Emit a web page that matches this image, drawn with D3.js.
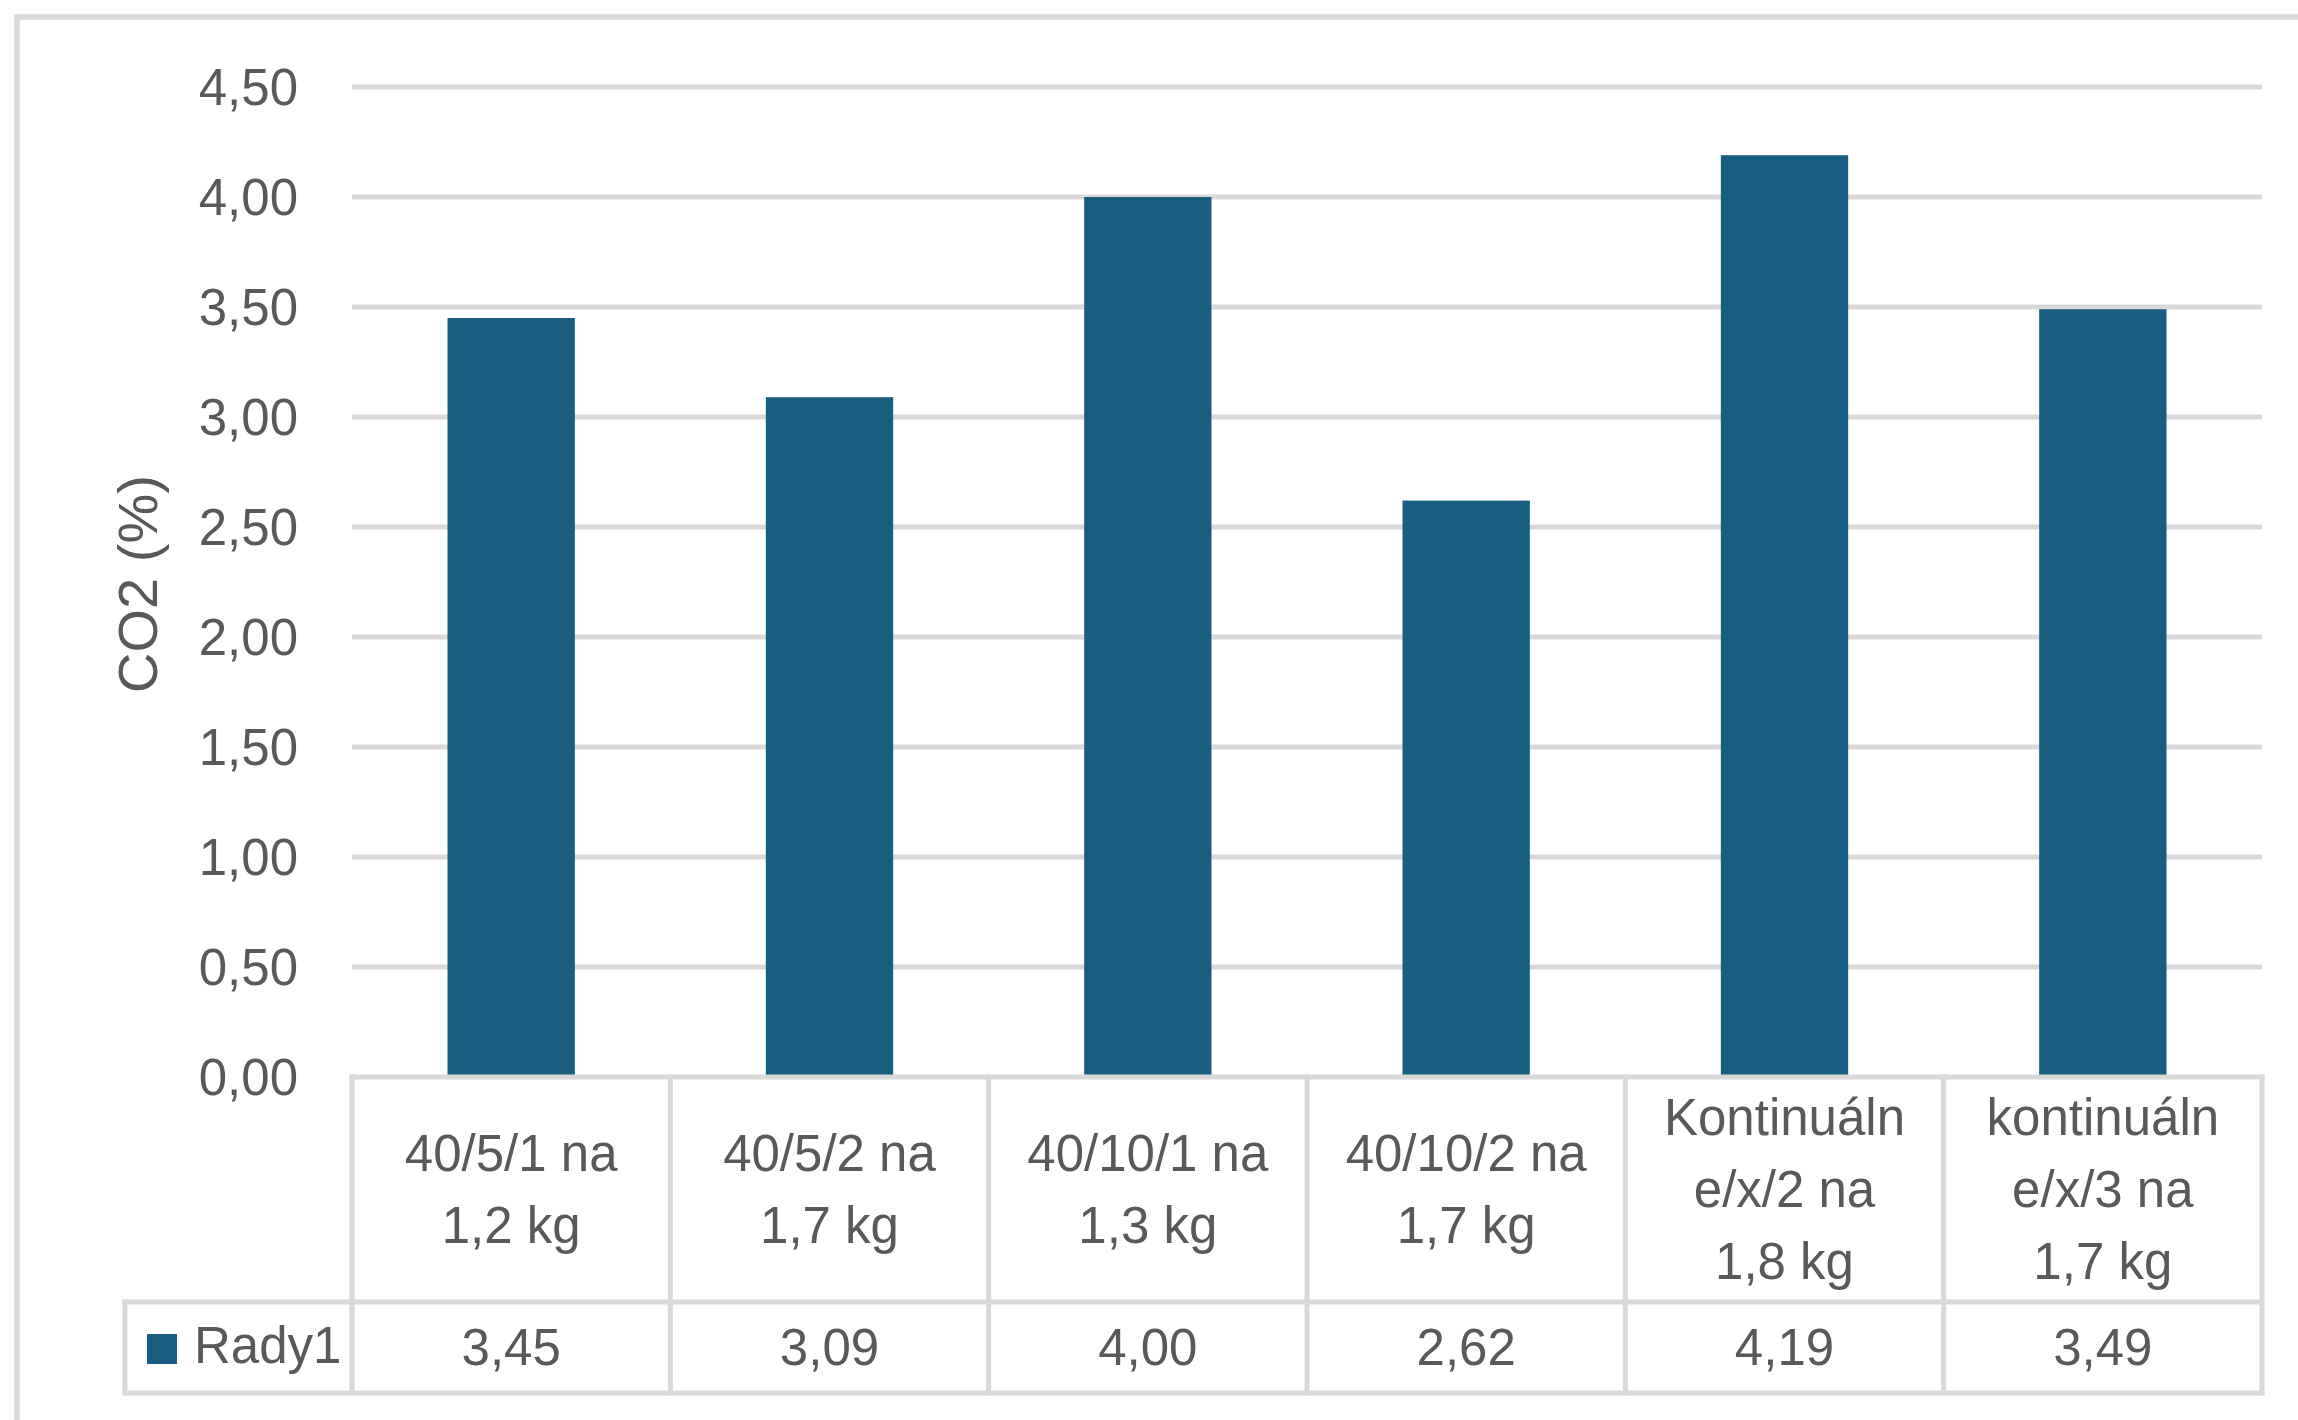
<!DOCTYPE html>
<html>
<head>
<meta charset="utf-8">
<script src="https://cdn.jsdelivr.net/npm/d3@7"></script>
<style>
  html, body { margin: 0; padding: 0; background: #ffffff; }
  svg { display: block; }
  text { font-family: "Liberation Sans", Arial, sans-serif; fill: #595959; }
</style>
</head>
<body>
<script>
// ---- data ----
const categories = [
  ["40/5/1 na", "1,2 kg"],
  ["40/5/2 na", "1,7 kg"],
  ["40/10/1 na", "1,3 kg"],
  ["40/10/2 na", "1,7 kg"],
  ["Kontinuáln", "e/x/2 na", "1,8 kg"],
  ["kontinuáln", "e/x/3 na", "1,7 kg"]
];
const seriesName = "Rady1";
const values = [3.45, 3.09, 4.00, 2.62, 4.19, 3.49];
const yTicks = [0, 0.5, 1, 1.5, 2, 2.5, 3, 3.5, 4, 4.5];
const yTitle = "CO2 (%)";

// ---- layout ----
const W = 2298, H = 1420;
const barColor = "#175e80";
const gridColor = "#d9d9d9";
const lw = 5;

const locale = d3.formatLocale({decimal: ",", thousands: " ", grouping: [3], currency: ["", ""]});
const fmt = locale.format(".2f");

const svg = d3.select("body").append("svg").attr("width", W).attr("height", H);

// outer border (extends beyond right/bottom edges)
svg.append("rect").attr("x", 17).attr("y", 17).attr("width", W + 100).attr("height", H + 100)
  .attr("fill", "none").attr("stroke", gridColor).attr("stroke-width", 5.5);

const plotL = 352, plotR = 2262, plotT = 87, plotB = 1077;
const idx = categories.map((d, i) => i);

const x = d3.scaleBand().domain(idx).range([plotL, plotR]).paddingInner(0.6).paddingOuter(0.3);
const xCol = d3.scaleBand().domain(idx).range([plotL, plotR]).padding(0);
const y = d3.scaleLinear().domain([0, 4.5]).range([plotB, plotT]);

// gridlines
svg.append("g").selectAll("line").data(yTicks.filter(t => t > 0)).join("line")
  .attr("x1", plotL).attr("x2", plotR)
  .attr("y1", d => y(d)).attr("y2", d => y(d))
  .attr("stroke", gridColor).attr("stroke-width", lw);

// y tick labels
svg.append("g").selectAll("text").data(yTicks).join("text")
  .attr("x", 298).attr("y", d => y(d)).attr("dy", "0.36em")
  .attr("text-anchor", "end").attr("font-size", 51)
  .text(d => fmt(d));

// y title
svg.append("text")
  .attr("transform", "translate(157,584) rotate(-90)")
  .attr("text-anchor", "middle").attr("font-size", 56)
  .text(yTitle);

// bars
svg.append("g").selectAll("rect").data(values).join("rect")
  .attr("x", (d, i) => x(i)).attr("width", x.bandwidth())
  .attr("y", d => y(d)).attr("height", d => y(0) - y(d))
  .attr("fill", barColor);

// data table
const rowTop = plotB, rowMid = 1302, rowBot = 1393, legL = 125;
const tg = svg.append("g").attr("stroke", gridColor).attr("stroke-width", lw).attr("stroke-linecap", "square");
tg.append("line").attr("x1", plotL).attr("x2", plotR).attr("y1", rowTop).attr("y2", rowTop);
tg.append("line").attr("x1", legL).attr("x2", plotR).attr("y1", rowMid).attr("y2", rowMid);
tg.append("line").attr("x1", legL).attr("x2", plotR).attr("y1", rowBot).attr("y2", rowBot);
const colEdges = idx.map(i => xCol(i)).concat([plotR]);
tg.selectAll("line.v").data(colEdges).join("line").attr("class", "v")
  .attr("x1", d => d).attr("x2", d => d).attr("y1", rowTop).attr("y2", rowBot);
tg.append("line").attr("x1", legL).attr("x2", legL).attr("y1", rowMid).attr("y2", rowBot);

// category labels
const lineH = 72, midBase = 1207;
const cg = svg.append("g");
categories.forEach((lines, i) => {
  const cx = xCol(i) + xCol.bandwidth() / 2;
  const n = lines.length;
  lines.forEach((s, k) => {
    cg.append("text")
      .attr("x", cx).attr("y", midBase + (k - (n - 1) / 2) * lineH)
      .attr("text-anchor", "middle").attr("font-size", 51)
      .text(s);
  });
});

// values row
svg.append("g").selectAll("text").data(values).join("text")
  .attr("x", (d, i) => xCol(i) + xCol.bandwidth() / 2).attr("y", 1365)
  .attr("text-anchor", "middle").attr("font-size", 51)
  .text(d => fmt(d));

// legend key
svg.append("rect").attr("x", 147).attr("y", 1334).attr("width", 30).attr("height", 30).attr("fill", barColor);
svg.append("text").attr("x", 194).attr("y", 1363).attr("font-size", 51).text(seriesName);
</script>
</body>
</html>
